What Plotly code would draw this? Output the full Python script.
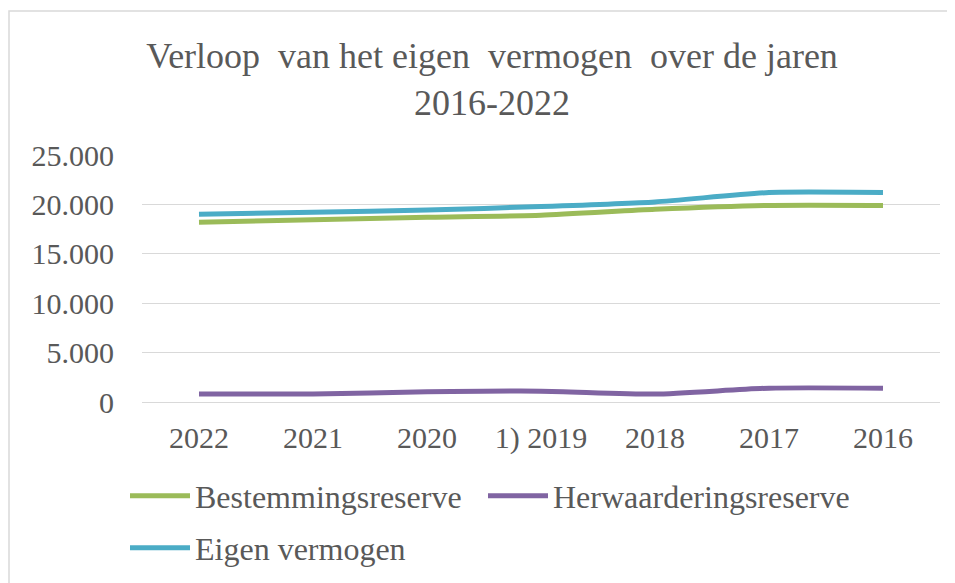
import plotly.graph_objects as go

years = ["2022", "2021", "2020", "1) 2019", "2018", "2017", "2016"]
bestemmingsreserve = [18200, 18450, 18700, 18900, 19500, 19900, 19900]
herwaarderingsreserve = [800, 800, 1030, 1100, 800, 1400, 1400]
eigen_vermogen = [19000, 19200, 19430, 19780, 20250, 21200, 21200]

FONT = "Liberation Serif, Times New Roman, serif"
GREY = "#595959"

# page body has an 8px margin; figure coordinates are screen - 8
W, H = 947, 575
ML, MR, MT, MB = 134, 15, 147, 181
PW, PH = W - ML - MR, H - MT - MB

fig = go.Figure()
series = [
    ("Bestemmingsreserve", bestemmingsreserve, "#9BBB59", "legend"),
    ("Herwaarderingsreserve", herwaarderingsreserve, "#8064A2", "legend2"),
    ("Eigen vermogen", eigen_vermogen, "#4BACC6", "legend3"),
]
for name, vals, col, lg in series:
    fig.add_trace(go.Scatter(
        x=years, y=vals, name=name, mode="lines",
        line=dict(color=col, width=5, shape="spline", smoothing=0.6),
        legend=lg,
    ))

def px_x(p):
    return (p - ML) / PW

def px_y(p):
    return (H - MB - p) / PH

fig.add_shape(type="rect", xref="paper", yref="paper",
              x0=px_x(1), x1=px_x(1000), y0=px_y(3), y1=px_y(700),
              line=dict(color="#d9d9d9", width=1.5), fillcolor="rgba(0,0,0,0)",
              layer="below")

NB = "\u00a0"
title_text = f"Verloop {NB}van het eigen {NB}vermogen {NB}over de jaren<br>2016-2022"

def leg(xpx, ypx):
    return dict(
        orientation="h", xref="container", yref="container",
        x=xpx / W, xanchor="left", y=1 - ypx / H, yanchor="middle",
        font=dict(size=32, color=GREY), itemwidth=60,
        bgcolor="rgba(0,0,0,0)",
    )

fig.update_layout(
    width=W, height=H,
    margin=dict(l=ML, r=MR, t=MT, b=MB),
    paper_bgcolor="white", plot_bgcolor="white",
    separators=",.",
    font=dict(family=FONT, color=GREY, size=30),
    title=dict(
        text=title_text,
        font=dict(family=FONT, size=36, color=GREY),
        x=484 / W, xanchor="center", xref="container",
        y=1 - 60 / H, yanchor="top", yref="container",
    ),
    xaxis=dict(
        type="category", range=[-0.5, 6.5],
        showgrid=False, showline=False, zeroline=False,
        ticks="", tickfont=dict(size=30, color=GREY),
        ticklabelstandoff=15,
    ),
    yaxis=dict(
        range=[0, 25000], tickvals=[0, 5000, 10000, 15000, 20000, 25000],
        tickformat=",d",
        showgrid=True, gridcolor="#d9d9d9", gridwidth=1,
        zeroline=True, zerolinecolor="#d9d9d9", zerolinewidth=1,
        showline=False, ticks="", tickfont=dict(size=30, color=GREY),
        ticklabelstandoff=27,
    ),
    showlegend=True,
    legend=leg(117, 488),
    legend2=leg(475, 488),
    legend3=leg(117, 540),
)

fig.write_html("out.html")
